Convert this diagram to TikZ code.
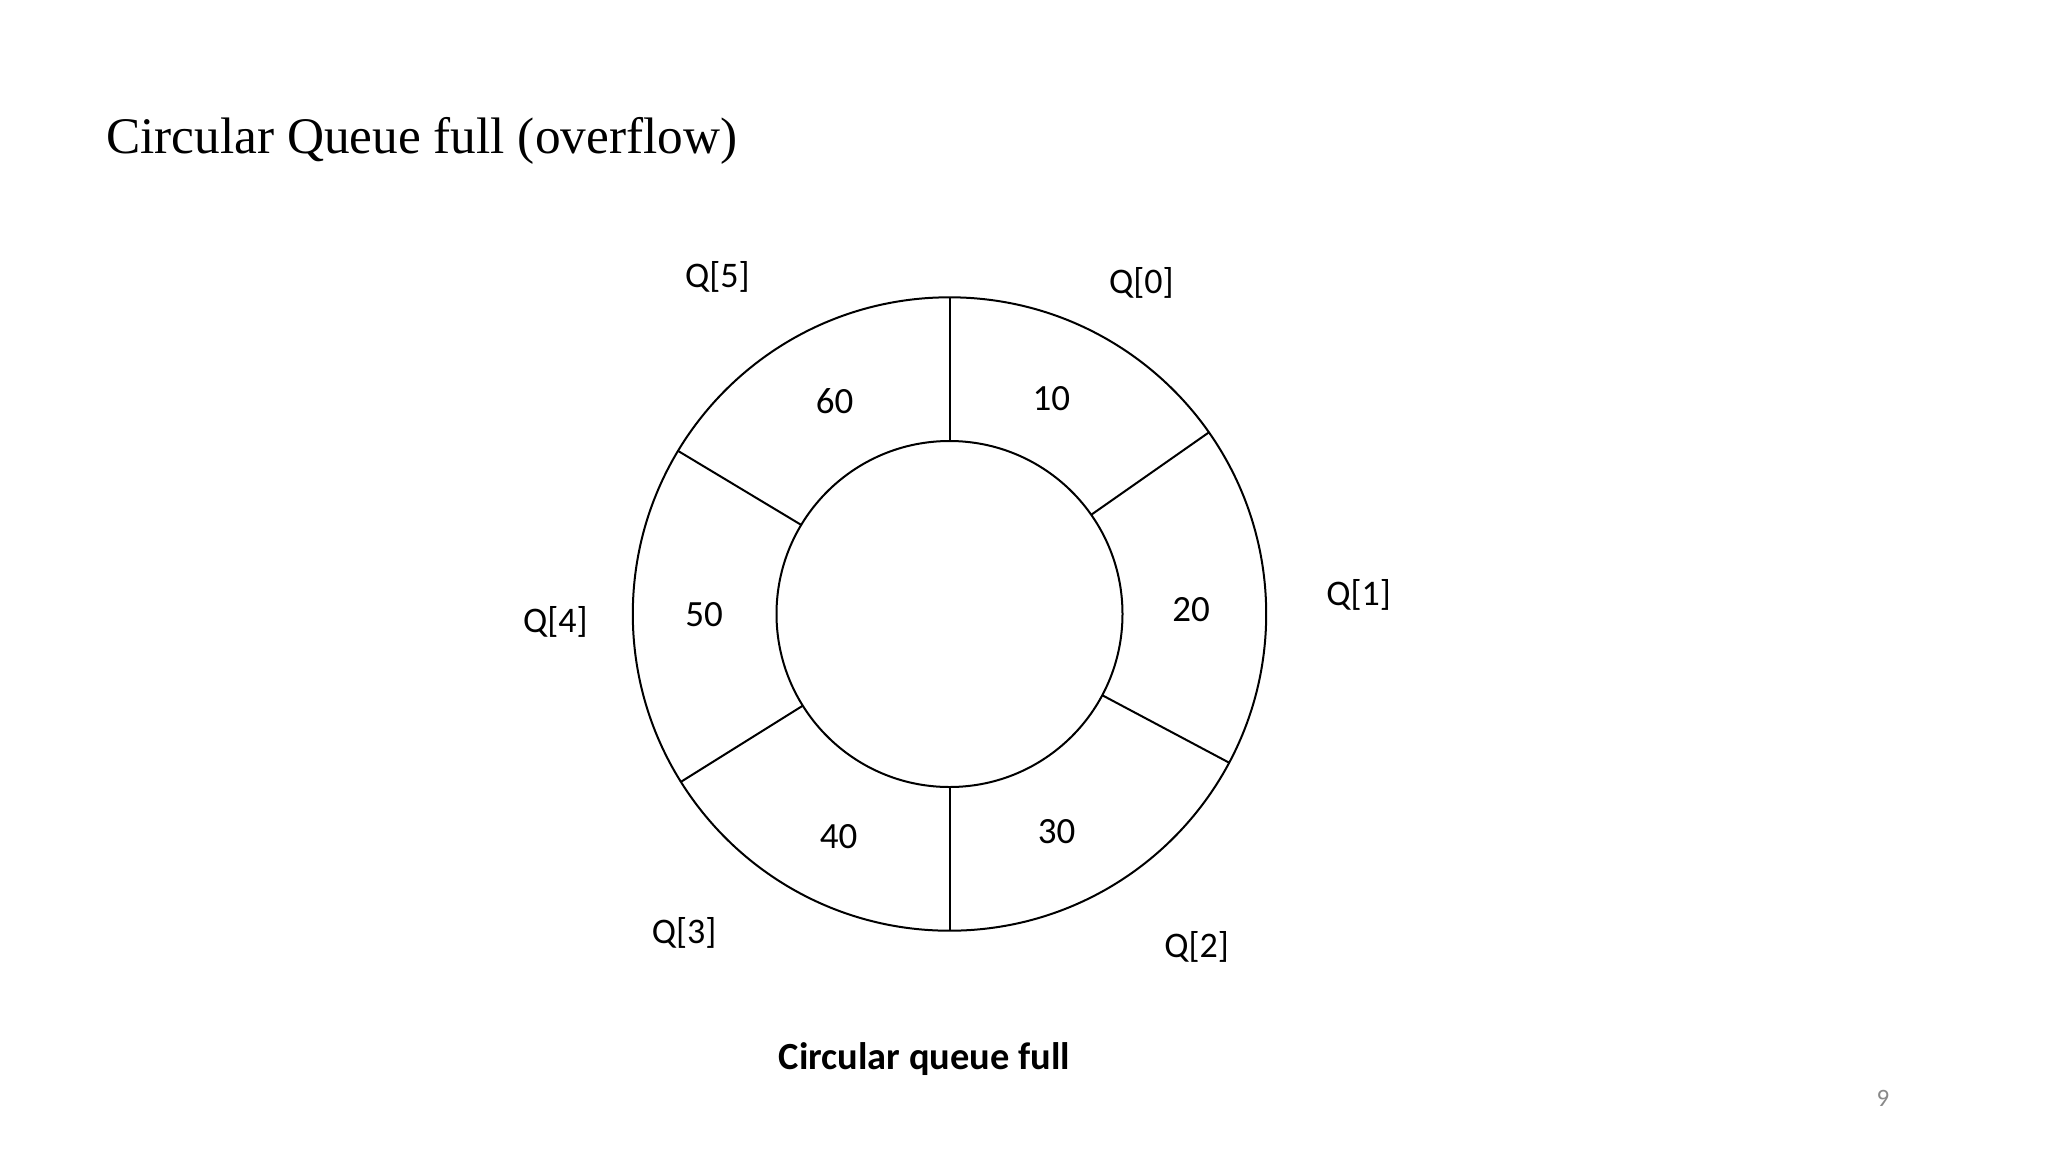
\documentclass[tikz,border=0pt]{standalone}
\usepackage{fontspec}
\setmainfont{Carlito}
\newfontfamily\titlefont{Liberation Serif}
\usetikzlibrary{calc}
\definecolor{pagegray}{RGB}{137,137,137}
\begin{document}
\begin{tikzpicture}[x=1pt,y=-1pt,
  ring/.style={line width=2pt, black},
  idx/.style={font=\fontsize{36}{40}\selectfont, anchor=base, inner sep=0pt},
  val/.style={font=\fontsize{37}{40}\selectfont, anchor=base, inner sep=0pt}]
\useasboundingbox[fill=white] (0,0) rectangle (2048,1152);
% title
\node[anchor=base west, inner sep=0pt, font=\titlefont\fontsize{51.3}{60}\selectfont] (title) at (106,153) {Circular Queue full (overflow)};
% ring
\coordinate (c) at (949.5,614);
\draw[ring] (c) circle[radius=316.7pt];
\draw[ring] (c) circle[radius=173pt];
\foreach \a/\n in {90/a,35/b,-28/d,-90/e,212/f,149/g}{
  \coordinate (in\n) at ($(c)+(\a:173pt)$);
  \coordinate (out\n) at ($(c)+(\a:316.7pt)$);
  \draw[ring] (in\n) -- (out\n);
}
% index labels
\node[idx] (q5) at (717.4,287) {Q[5]};
\node[idx] (q0) at (1141.4,293) {Q[0]};
\node[idx] (q1) at (1358.7,605) {Q[1]};
\node[idx] (q4) at (555.3,632.5) {Q[4]};
\node[idx] (q3) at (684.2,943.5) {Q[3]};
\node[idx] (q2) at (1196.7,957) {Q[2]};
% values
\node[val] (v60) at (834.6,413.8) {60};
\node[val] (v10) at (1051.4,410.2) {10};
\node[val] (v20) at (1191,621.8) {20};
\node[val] (v50) at (704,626.8) {50};
\node[val] (v40) at (838.5,848.8) {40};
\node[val] (v30) at (1056.6,843.8) {30};
% caption
\node[anchor=base, inner sep=0pt, font=\bfseries\fontsize{38.4}{44}\selectfont] (cap) at (924.5,1069) {Circular queue full};
% page number
\node[anchor=center, inner sep=0pt, text=pagegray, font=\fontsize{25}{28}\selectfont] (pg) at (1883,1098) {9};
\end{tikzpicture}
\end{document}
